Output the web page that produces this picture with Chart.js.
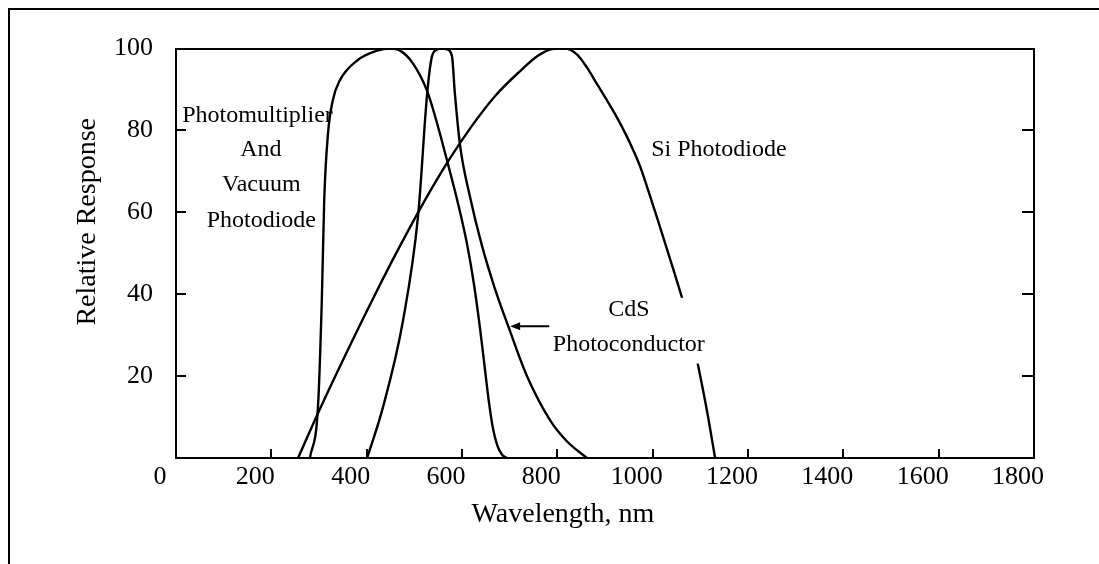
<!DOCTYPE html>
<html>
<head>
<meta charset="utf-8">
<script src="https://cdn.jsdelivr.net/npm/chart.js@4.4.1/dist/chart.umd.min.js"></script>
<style>
    html, body{margin:0;padding:0;background:#fff;overflow:hidden;}
    #marco{position:absolute;left:8px;top:8px;width:1100px;height:600px;border-left:2px solid #000;border-top:2px solid #000;}
    #contenedor{position:absolute;left:0;top:0;width:1099px;height:564px;}
</style>
</head>
<body>
<div id="marco"></div>
<div id="contenedor"><canvas id="Grafico1" width="1099" height="564"></canvas></div>
<script>
// valores (longitud de onda en nm, respuesta relativa)
const ticksX = [0, 200, 400, 600, 800, 1000, 1200, 1400, 1600, 1800];
const ticksY = [0, 20, 40, 60, 80, 100];

const pmNm  = [281, 298, 306, 311, 319, 329, 344, 380, 422, 449, 470, 497, 527, 550, 571, 592, 611, 625, 638, 648, 657, 665, 674, 684, 694];
const pmVal = [0, 12.8, 39, 63.2, 79.4, 87.4, 92.3, 97.1, 99.5, 100, 99.5, 96.4, 89.6, 80.8, 71.6, 62, 52, 42.5, 31.5, 21.8, 13.2, 7.2, 3.1, 0.8, 0];

const cdsNm  = [401, 434, 476, 508, 527, 537, 548, 558, 569, 579, 585, 596, 617, 642, 669, 697, 736, 785, 820, 862];
const cdsVal = [0, 12.3, 33.4, 59.3, 89.1, 98.1, 99.8, 100, 99.8, 98.1, 89.1, 76.3, 63.7, 51.8, 41.4, 32.2, 20.1, 9.2, 4.1, 0];

const siNm  = [256, 300, 365, 420, 470, 520, 571, 620, 670, 720, 760, 790, 815, 841, 862, 885, 904, 925, 946, 960, 973, 990, 1009, 1043, 1064, 1080, 1093, 1114, 1131];
const siVal = [0, 11.5, 27.5, 40.5, 51.8, 62.5, 72.5, 81, 88.5, 94.3, 98.3, 99.9, 100, 98.6, 95.4, 91, 87.4, 83.2, 78.5, 75, 71.4, 65.6, 58.8, 46.2, 38.2, 31.6, 24, 11.5, 0];

Chart.defaults.font.family = '"Liberation Serif", "Times New Roman", serif';
Chart.defaults.color = '#000';

function puntos(xs, ys){
    return xs.map((x, i) => ({x: x, y: ys[i]}));
}

function serie(xs, ys){
    return {
        data: puntos(xs, ys),
        borderColor: '#000',
        borderWidth: 2.4,
        pointRadius: 0,
        fill: false,
        cubicInterpolationMode: 'monotone'
    };
}

// textos dentro del grafico, en unidades de los ejes
const textos = [
    {t: 'Photomultiplier', nm: 171, v: 83.5},
    {t: 'And', nm: 178, v: 75.2},
    {t: 'Vacuum', nm: 179, v: 66.7},
    {t: 'Photodiode', nm: 179, v: 57.9},
    {t: 'Si Photodiode', nm: 1139, v: 75.4},
    {t: 'CdS', nm: 950, v: 36.2},
    {t: 'Photoconductor', nm: 950, v: 27.7}
];

const anotaciones = {
    id: 'anotaciones',
    afterDatasetsDraw(chart){
        const ctx = chart.ctx;
        const x = chart.scales.x;
        const y = chart.scales.y;
        ctx.save();
        ctx.font = '24px "Liberation Serif"';
        ctx.textAlign = 'center';
        ctx.textBaseline = 'middle';

        // caja blanca detras de "CdS Photoconductor"
        let cx = x.getPixelForValue(950);
        let y1 = y.getPixelForValue(36.2);
        let y2 = y.getPixelForValue(27.7);
        let w = ctx.measureText('Photoconductor').width;
        ctx.fillStyle = '#fff';
        ctx.fillRect(cx - w / 2 - 4, y1 - 12, w + 8, y2 - y1 + 31);

        ctx.fillStyle = '#000';
        textos.forEach(e => {
            ctx.fillText(e.t, x.getPixelForValue(e.nm), y.getPixelForValue(e.v));
        });

        // flecha hacia la curva CdS
        let ay = y.getPixelForValue(32.2);
        let ax1 = x.getPixelForValue(783);
        let ax2 = x.getPixelForValue(701);
        ctx.strokeStyle = '#000';
        ctx.lineWidth = 2;
        ctx.beginPath();
        ctx.moveTo(ax1, ay);
        ctx.lineTo(ax2 + 6, ay);
        ctx.stroke();
        ctx.beginPath();
        ctx.moveTo(ax2, ay);
        ctx.lineTo(ax2 + 10, ay - 4);
        ctx.lineTo(ax2 + 10, ay + 4);
        ctx.closePath();
        ctx.fill();
        ctx.restore();
    }
};

let CanvasG1 = document.getElementById('Grafico1').getContext('2d');
let datos = {
    datasets: [
        serie(pmNm, pmVal),
        serie(cdsNm, cdsVal),
        serie(siNm, siVal)
    ]
};
let opciones = {
    responsive: false,
    animation: false,
    events: [],
    layout: {padding: 0},
    plugins: {
        legend: {display: false},
        tooltip: {enabled: false}
    },
    scales: {
        x: {
            type: 'linear',
            position: 'bottom',
            min: 0,
            max: 1800,
            afterBuildTicks: s => { s.ticks = ticksX.map(v => ({value: v})); },
            afterFit: s => { s.height = 106; },
            ticks: {font: {size: 26}, padding: 13, labelOffset: -16, color: '#000', maxRotation: 0, autoSkip: false, callback: v => String(v)},
            grid: {drawOnChartArea: false, tickLength: -9, color: '#000', lineWidth: 2},
            border: {color: '#000', width: 2},
            title: {display: true, text: 'Wavelength, nm' + ' '.repeat(12), font: {size: 28}, color: '#000', padding: {top: 0, bottom: 33}}
        },
        x2: {
            type: 'linear',
            position: 'top',
            min: 0,
            max: 1800,
            afterFit: s => { s.height = 45; },
            ticks: {display: false},
            grid: {display: false},
            border: {display: true, color: '#000', width: 2}
        },
        y: {
            type: 'linear',
            position: 'left',
            min: 0,
            max: 100,
            afterBuildTicks: s => { s.ticks = ticksY.map(v => ({value: v})); },
            afterFit: s => { s.width = 176; },
            ticks: {font: {size: 26}, padding: 33, color: '#000', callback: v => v === 0 ? '' : String(v)},
            grid: {drawOnChartArea: false, tickLength: -10, color: '#000', lineWidth: 2},
            border: {color: '#000', width: 2},
            title: {display: true, text: ' '.repeat(9) + 'Relative Response', font: {size: 28}, color: '#000', padding: {top: 71, bottom: 0}}
        },
        y2: {
            type: 'linear',
            position: 'right',
            min: 0,
            max: 100,
            afterBuildTicks: s => { s.ticks = ticksY.map(v => ({value: v})); },
            afterFit: s => { s.width = 65; },
            ticks: {display: false},
            grid: {drawOnChartArea: false, tickLength: -12, color: '#000', lineWidth: 2},
            border: {color: '#000', width: 2}
        }
    }
};
let G1 = new Chart(CanvasG1, {
    type: 'line',
    data: datos,
    options: opciones,
    plugins: [anotaciones]
});
</script>
</body>
</html>
